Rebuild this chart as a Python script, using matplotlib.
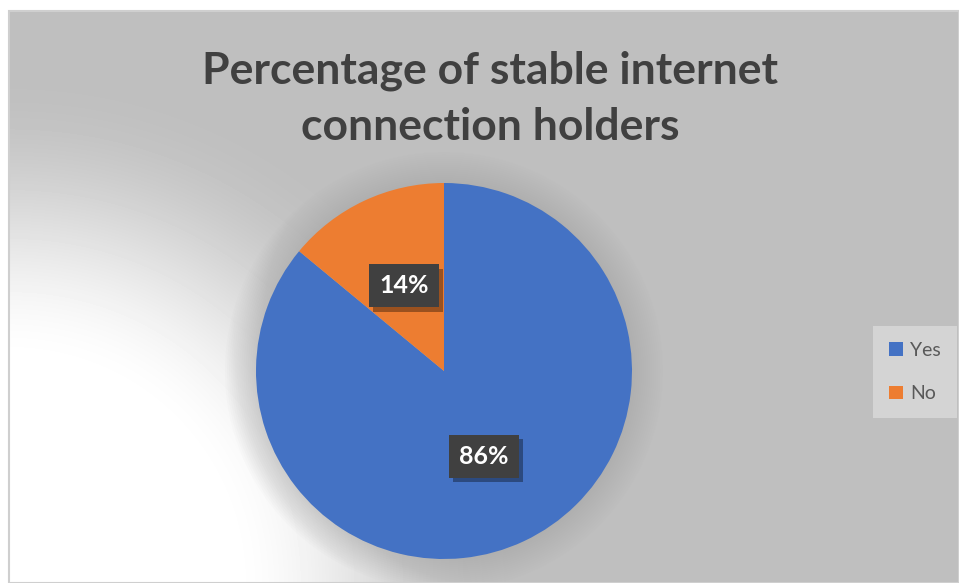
import numpy as np
import matplotlib.pyplot as plt
import matplotlib.patheffects as pe
from matplotlib.patches import Circle, Rectangle

plt.rcParams['font.family'] = ['Lato', 'DejaVu Sans']

labels = ["Yes", "No"]
shares = [86, 14]
colors = ["#4472C4", "#ED7D31"]
title = "Percentage of stable internet\nconnection holders"

W, H = 959, 583
fig = plt.figure(figsize=(W / 100, H / 100), dpi=100)
fig.patch.set_facecolor("white")

# chart area with a corner radial gradient (white bottom-left -> grey)
left, top = 9, 11
bg = fig.add_axes([left / W, 0, (W - left) / W, (H - top) / H])
bg.set_axis_off()
gw, gh = W - left, H - top
yy, xx = np.mgrid[0:gh, 0:gw]
d = np.hypot(xx - 0, yy - gh)
t = np.clip((d - 215) / 290, 0, 1)
t = t * t * (3 - 2 * t)
shade = 1.0 - t * (1.0 - 0.749)
bg.imshow(shade, cmap="gray", vmin=0, vmax=1, aspect="auto",
          extent=[0, 1, 0, 1], interpolation="bilinear")
bg.set_xlim(0, 1)
bg.set_ylim(0, 1)
fig.patches.append(Rectangle((left / W, 0), (W - left) / W, (H - top) / H,
                             transform=fig.transFigure, fill=False,
                             edgecolor="#CFCFCF", lw=1.5, zorder=5))

# pie axes, 1.2 data units of margin so the halo fits
cx, cy, r = 444, 371, 188
m = 1.2
ax = fig.add_axes([(cx - r * m) / W, (H - cy - r * m) / H, 2 * r * m / W, 2 * r * m / H])
ax.set_xlim(-m, m)
ax.set_ylim(-m, m)
ax.set_aspect("equal")
ax.set_axis_off()
ax.patch.set_alpha(0)

# soft shadow around the pie
for k in range(16):
    ax.add_patch(Circle((0, 0), 1.0 + 0.011 * k, facecolor="#9F9F9F",
                        alpha=0.032, lw=0, zorder=0))

wedges, _, autotexts = ax.pie(shares, colors=colors, startangle=90, counterclock=False,
                              autopct="%1.0f%%", pctdistance=0.5, radius=1.0,
                              wedgeprops=dict(lw=0), frame=True)
ax.set_xlim(-m, m)
ax.set_ylim(-m, m)
ax.set_axis_off()
for txt in autotexts:
    txt.set_color("white")
    txt.set_fontsize(18)
    txt.set_fontweight("bold")
    txt.set_bbox(dict(boxstyle="square,pad=0.4", facecolor="#404040", edgecolor="none"))
    txt.get_bbox_patch().set_path_effects([
        pe.withSimplePatchShadow(offset=(3, -3), shadow_rgbFace="black", alpha=0.35)])

fig.text(490 / W, 1 - 99 / H, title, ha="center", va="center", fontsize=32,
         fontweight="bold", color="#404040", linespacing=1.47)

# legend
leg = fig.legend(wedges, labels, loc="center", bbox_to_anchor=(915 / W, 1 - 372 / H),
                 frameon=True, fontsize=14, handlelength=0.7, handleheight=0.7,
                 handletextpad=0.4, labelspacing=1.35, borderpad=0.5,
                 labelcolor="#595959")
leg.get_frame().set_facecolor("#D4D4D4")
leg.get_frame().set_edgecolor("none")
leg.get_frame().set_boxstyle("square")
leg.get_frame().set_alpha(1)

fig.savefig("out.png", dpi=100)
